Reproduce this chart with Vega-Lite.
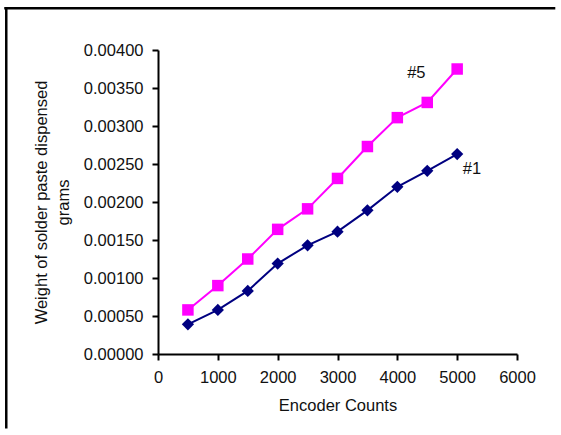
{
  "$schema": "https://vega.github.io/schema/vega-lite/v6.json",
  "width": 359,
  "height": 304,
  "autosize": {"type": "none"},
  "padding": {"left": 158, "top": 50, "right": 40, "bottom": 78},
  "background": "white",
  "config": {
    "view": {"stroke": null},
    "font": "Liberation Sans",
    "axis": {
      "grid": false,
      "domainColor": "black",
      "domainWidth": 2,
      "tickColor": "black",
      "tickWidth": 2,
      "tickSize": 6,
      "labelFont": "Liberation Sans",
      "labelFontSize": 16.5,
      "labelColor": "#111111",
      "titleFont": "Liberation Sans",
      "titleFontSize": 16.5,
      "titleFontWeight": "normal",
      "titleColor": "#111111",
      "labelPadding": 9,
      "labelFlush": false,
      "labelOverlap": false
    }
  },
  "datasets": {
    "series": [
      {"series": "#1", "counts": 500, "weight": 0.00039},
      {"series": "#1", "counts": 1000, "weight": 0.00058},
      {"series": "#1", "counts": 1500, "weight": 0.00083},
      {"series": "#1", "counts": 2000, "weight": 0.00119},
      {"series": "#1", "counts": 2500, "weight": 0.00143},
      {"series": "#1", "counts": 3000, "weight": 0.00161},
      {"series": "#1", "counts": 3500, "weight": 0.00189},
      {"series": "#1", "counts": 4000, "weight": 0.00220},
      {"series": "#1", "counts": 4500, "weight": 0.00241},
      {"series": "#1", "counts": 5000, "weight": 0.00263},
      {"series": "#5", "counts": 500, "weight": 0.00058},
      {"series": "#5", "counts": 1000, "weight": 0.00090},
      {"series": "#5", "counts": 1500, "weight": 0.00125},
      {"series": "#5", "counts": 2000, "weight": 0.00164},
      {"series": "#5", "counts": 2500, "weight": 0.00191},
      {"series": "#5", "counts": 3000, "weight": 0.00231},
      {"series": "#5", "counts": 3500, "weight": 0.00273},
      {"series": "#5", "counts": 4000, "weight": 0.00311},
      {"series": "#5", "counts": 4500, "weight": 0.00331},
      {"series": "#5", "counts": 5000, "weight": 0.00375}
    ],
    "labels": [
      {"label": "#5", "counts": 4318, "weight": 0.003695},
      {"label": "#1", "counts": 5247, "weight": 0.002432}
    ]
  },
  "layer": [
    {
      "encoding": {
        "x": {
          "field": "counts", "type": "quantitative",
          "scale": {"domain": [0, 6000], "nice": false, "zero": false},
          "axis": {"values": [0, 1000, 2000, 3000, 4000, 5000, 6000], "tickCount": 7, "format": "d", "title": "Encoder Counts", "titlePadding": 12}
        },
        "y": {
          "field": "weight", "type": "quantitative",
          "scale": {"domain": [0, 0.004], "nice": false, "zero": false},
          "axis": {"values": [0, 0.0005, 0.001, 0.0015, 0.002, 0.0025, 0.003, 0.0035, 0.004], "tickCount": 9, "format": ".5f", "title": ["Weight of solder paste dispensed", "grams"], "titlePadding": 12, "titleLineHeight": 22}
        }
      },
      "layer": [
        {
          "data": {"name": "series"},
          "mark": {"type": "line", "strokeWidth": 2},
          "encoding": {
            "color": {"field": "series", "type": "nominal", "scale": {"domain": ["#1", "#5"], "range": ["#000080", "#FF00FF"]}, "legend": null},
            "detail": {"field": "series"}
          }
        },
        {
          "data": {"name": "series"},
          "mark": {"type": "point", "filled": true, "opacity": 1},
          "encoding": {
            "color": {"field": "series", "type": "nominal", "legend": null},
            "shape": {"field": "series", "type": "nominal", "scale": {"domain": ["#1", "#5"], "range": ["diamond", "square"]}, "legend": null},
            "size": {"field": "series", "type": "nominal", "scale": {"domain": ["#1", "#5"], "range": [150, 132]}, "legend": null}
          }
        },
        {
          "data": {"name": "labels"},
          "mark": {"type": "text", "font": "Liberation Sans", "fontSize": 16.5, "color": "#111111", "align": "center", "baseline": "middle"},
          "encoding": {
            "text": {"field": "label"}
          }
        }
      ]
    },
    {
      "data": {"values": [{}]},
      "mark": {"type": "rule", "stroke": "black", "strokeWidth": 2.5},
      "encoding": {
        "x": {"datum": -2536, "type": "quantitative"},
        "y": {"datum": 0.00456, "type": "quantitative"},
        "y2": {"datum": -0.00098}
      }
    },
    {
      "data": {"values": [{}]},
      "mark": {"type": "rule", "stroke": "black", "strokeWidth": 2.5},
      "encoding": {
        "x": {"datum": -2570, "type": "quantitative"},
        "x2": {"datum": 6640},
        "y": {"datum": 0.00455, "type": "quantitative"}
      }
    }
  ]
}
